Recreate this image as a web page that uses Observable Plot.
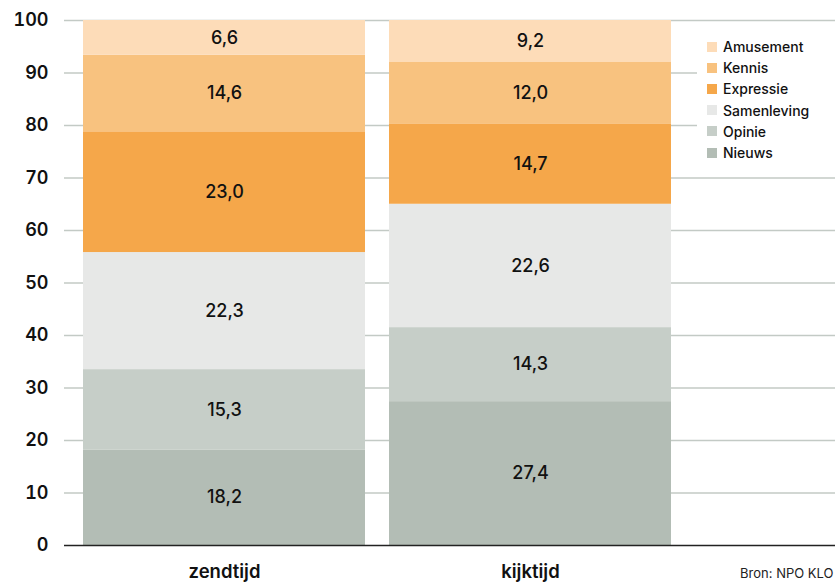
<!DOCTYPE html>
<html>
<head>
<meta charset="utf-8">
<script src="https://cdn.jsdelivr.net/npm/d3@7"></script>
<script src="https://cdn.jsdelivr.net/npm/@observablehq/plot@0.6"></script>
<style>
  html, body { margin: 0; padding: 0; background: #fff; }
  #wrap { position: relative; width: 835px; height: 584px; font-family: Inter, "Noto Sans", sans-serif; }
  #legend { position: absolute; left: 697px; top: 34px; width: 138px; background: #fff; padding: 2px 0 4px 0; }
  .item { display: flex; align-items: center; height: 21.2px; font-size: 14px; font-weight: 500; color: #111; }
  .sw { width: 10px; height: 10px; margin-left: 10px; margin-right: 6px; }
</style>
</head>
<body>
<div id="wrap">
  <div id="chart"></div>
  <div id="legend"></div>
</div>
<script>
const categories = ["zendtijd", "kijktijd"];
const series = ["Nieuws", "Opinie", "Samenleving", "Expressie", "Kennis", "Amusement"];
const colors = ["#b3bdb5", "#c6cec8", "#e7e8e7", "#f5a74a", "#f8c27f", "#fddcb8"];
// bar heights as drawn in the reference
const zendtijd = [18.2, 15.3, 22.3, 23.0, 14.6, 6.6];
const kijktijd = [27.4, 14.1, 23.5, 15.2, 11.8, 8.0];
// printed value labels
const zendtijdLabels = ["18,2", "15,3", "22,3", "23,0", "14,6", "6,6"];
const kijktijdLabels = ["27,4", "14,3", "22,6", "14,7", "12,0", "9,2"];
const yTicks = [0, 10, 20, 30, 40, 50, 60, 70, 80, 90, 100];
const source = "Bron: NPO KLO";

const rows = [];
series.forEach((s, i) => {
  rows.push({cat: "zendtijd", series: s, value: zendtijd[i], label: zendtijdLabels[i]});
  rows.push({cat: "kijktijd", series: s, value: kijktijd[i], label: kijktijdLabels[i]});
});

const chart = Plot.plot({
  width: 835,
  height: 584,
  marginLeft: 83,
  marginRight: 163,
  marginTop: 20,
  marginBottom: 39,
  style: {fontFamily: 'Inter, "Noto Sans", sans-serif', background: "#fff", color: "#111"},
  x: {domain: categories, paddingInner: 0.078, paddingOuter: 0, label: null},
  y: {domain: [0, 100], label: null},
  color: {domain: series, range: colors},
  marks: [
    Plot.ruleY(yTicks.filter(d => d > 0), {stroke: "#c3cac5", strokeWidth: 1.5, insetLeft: -19, insetRight: -163}),
    Plot.barY(rows, Plot.stackY({x: "cat", y: "value", fill: "series", order: series})),
    Plot.text(rows, Plot.stackY({x: "cat", y: "value", z: "series", order: series, text: "label", fontSize: 18, fontWeight: 500, fill: "#111"})),
    Plot.ruleY([0], {stroke: "#222", strokeWidth: 1.5, insetLeft: -19, insetRight: -163}),
    Plot.axisY({ticks: yTicks, tickSize: 0, tickPadding: 35, fontSize: 18, fontWeight: 600, tickFormat: d => d}),
    Plot.axisX({tickSize: 0, tickPadding: 19, fontSize: 18.5, fontWeight: 600}),
    Plot.text([source], {frameAnchor: "bottom-right", text: d => d, dx: 161, dy: 32, fontSize: 13, textAnchor: "end", fill: "#222"})
  ]
});
document.getElementById("chart").appendChild(chart);

const legend = document.getElementById("legend");
for (let i = series.length - 1; i >= 0; i--) {
  const div = document.createElement("div");
  div.className = "item";
  const sw = document.createElement("span");
  sw.className = "sw";
  sw.style.background = colors[i];
  div.appendChild(sw);
  div.appendChild(document.createTextNode(series[i]));
  legend.appendChild(div);
}
</script>
</body>
</html>
